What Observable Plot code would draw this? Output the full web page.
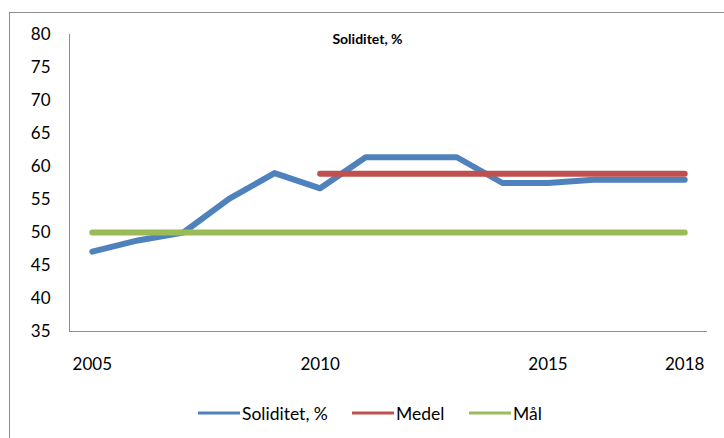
<!DOCTYPE html>
<html>
<head>
<meta charset="utf-8">
<script src="https://cdn.jsdelivr.net/npm/d3@7"></script>
<script src="https://cdn.jsdelivr.net/npm/@observablehq/plot@0.6"></script>
<style>
  html, body { margin: 0; padding: 0; background: #fff; overflow: hidden; }
  body { width: 724px; height: 438px; position: relative; font-family: Lato, "Open Sans", sans-serif; }
  #frame { position: absolute; left: 9px; top: 12px; width: 740px; height: 460px; border: 1px solid #8c8c8c; box-sizing: border-box; }
  #chart { position: absolute; left: 0; top: 0; }
  #title { position: absolute; top: 30px; left: 0; width: 735px; text-align: center; font-weight: bold; font-size: 14px; color: #000; }
  .leg { position: absolute; top: 402px; display: flex; align-items: center; font-size: 17.5px; color: #000; }
  .leg svg { margin-right: 2px; }
</style>
</head>
<body>
<div id="frame"></div>
<div id="chart"></div>
<div id="title">Soliditet, %</div>
<div id="legend"></div>
<script>
const years = [2005, 2006, 2007, 2008, 2009, 2010, 2011, 2012, 2013, 2014, 2015, 2016, 2017, 2018];
const soliditet = [47.1, 48.8, 50.0, 55.1, 59.0, 56.7, 61.4, 61.4, 61.4, 57.5, 57.5, 58.0, 58.0, 58.0];
const medel = [null, null, null, null, null, 58.9, 58.9, 58.9, 58.9, 58.9, 58.9, 58.9, 58.9, 58.9];
const mal = [50, 50, 50, 50, 50, 50, 50, 50, 50, 50, 50, 50, 50, 50];
const xTicks = [2005, 2010, 2015, 2018];
const yTicks = [35, 40, 45, 50, 55, 60, 65, 70, 75, 80];
const seriesNames = ["Soliditet, %", "Medel", "Mål"];
const seriesColors = ["#4f81bd", "#c0504d", "#9bbb59"];

const rows = (vals, name) => years.map((y, i) => ({year: y, value: vals[i], series: name}));
const dSol = rows(soliditet, seriesNames[0]);
const dMed = rows(medel, seriesNames[1]).filter(d => d.value != null);
const dMal = rows(mal, seriesNames[2]);

const plot = Plot.plot({
  width: 724,
  height: 390,
  marginLeft: 69,
  marginRight: 17,
  marginTop: 34,
  marginBottom: 59,
  style: {fontFamily: "Lato, 'Open Sans', sans-serif", fontSize: "17px", color: "#000", background: "transparent"},
  x: {domain: [2004.5, 2018.5], ticks: xTicks, tickFormat: d => String(d), tickSize: 0, tickPadding: 26, label: null},
  y: {domain: [35, 80], ticks: yTicks, tickSize: 0, tickPadding: 19, label: null},
  marks: [
    Plot.ruleX([2004.5], {y1: 35, y2: 80, stroke: "#8c8c8c", strokeWidth: 1}),
    Plot.ruleY([35], {x1: 2004.5, x2: 2018.5, stroke: "#8c8c8c", strokeWidth: 1}),
    Plot.line(dSol, {x: "year", y: "value", stroke: seriesColors[0], strokeWidth: 6, strokeLinecap: "round", strokeLinejoin: "round"}),
    Plot.line(dMed, {x: "year", y: "value", stroke: seriesColors[1], strokeWidth: 6, strokeLinecap: "round", strokeLinejoin: "round"}),
    Plot.line(dMal, {x: "year", y: "value", stroke: seriesColors[2], strokeWidth: 6, strokeLinecap: "round", strokeLinejoin: "round"})
  ]
});
plot.querySelectorAll("text").forEach(t => t.setAttribute("fill", "#000"));
document.getElementById("chart").appendChild(plot);

const legendLefts = [198, 352, 469];
const legend = document.getElementById("legend");
seriesNames.forEach((name, i) => {
  const item = document.createElement("div");
  item.className = "leg";
  item.style.left = legendLefts[i] + "px";
  item.innerHTML = `<svg width="42" height="22"><line x1="0" x2="42" y1="11" y2="11" stroke="${seriesColors[i]}" stroke-width="3"/></svg><span>${name}</span>`;
  legend.appendChild(item);
});
</script>
</body>
</html>
